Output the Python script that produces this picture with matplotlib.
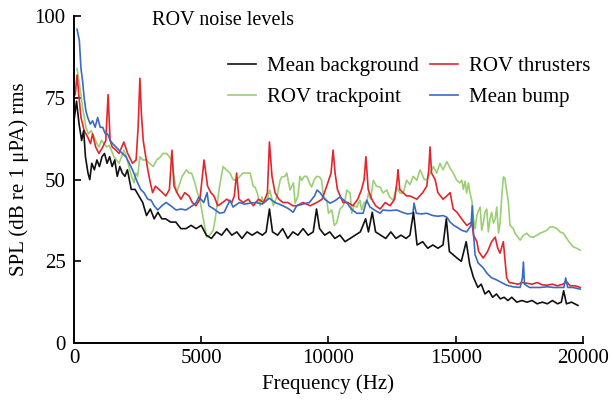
import matplotlib
matplotlib.use("Agg")
import matplotlib.pyplot as plt

plt.rcParams['font.family'] = ['Liberation Serif', 'DejaVu Serif']

# ---- data (frequency Hz, SPL dB) ----
mean_background = [(0,68),(100,74),(200,67),(300,62),(380,65),(450,57),(550,52),(620,50),(700,55),(800,53),(900,56),(1000,54),(1100,57),(1200,58),(1300,55),(1400,57),(1500,54),(1600,56),(1700,51),(1800,54),(1900,52),(2000,51),(2100,53),(2250,47),(2400,47),(2550,45),(2700,43),(2850,39),(3000,41),(3150,38),(3300,40),(3450,38),(3600,38),(3800,37),(4000,37),(4200,35),(4400,35),(4600,36),(4800,35),(5000,36),(5200,33),(5400,32),(5600,34),(5800,33),(6000,35),(6200,33),(6400,34),(6600,32),(6800,34),(7000,33),(7200,34),(7400,33),(7550,34),(7680,41),(7800,34),(8000,33),(8200,35),(8400,32),(8600,34),(8800,33),(9000,35),(9200,33),(9400,34),(9530,41),(9650,35),(9850,33),(10050,34),(10250,32),(10450,33),(10650,31),(10850,32),(11050,33),(11250,34),(11460,38),(11570,34),(11720,40),(11850,34),(12050,33),(12250,32),(12450,34),(12650,32),(12850,33),(13050,32),(13200,33),(13340,40),(13480,30),(13700,31),(13900,29),(14100,30),(14300,29),(14500,30),(14630,38),(14750,28),(14900,27),(15050,26),(15220,25),(15410,31),(15550,24),(15700,20),(15870,17),(16000,18),(16150,15),(16300,16),(16450,14),(16600,15),(16750,13.5),(16900,14),(17050,13),(17200,14),(17400,12.5),(17600,13),(17800,12.5),(18000,13),(18200,12),(18400,12.5),(18600,12),(18800,13),(19000,12),(19150,12.5),(19240,16),(19350,12),(19550,12.5),(19800,11.5)]

rov_thrusters = [(50,76),(120,82),(200,75),(275,69),(400,65),(540,63),(650,61),(730,64),(850,60),(980,58),(1130,60),(1250,62),(1340,76),(1420,62),(1500,60),(1650,59),(1770,58),(1960,61.5),(2110,58),(2300,55),(2440,56),(2520,66),(2590,81),(2650,70),(2720,62),(2800,58),(2900,53),(3000,49),(3090,46),(3200,48),(3340,47),(3480,46),(3610,45),(3750,47),(3850,59),(3930,48),(4050,46),(4200,44),(4350,46),(4520,45),(4650,43),(4790,42),(4950,44),(5110,56),(5250,48),(5380,46),(5500,45),(5650,42),(5840,43),(6000,44),(6200,43),(6300,45),(6390,52),(6480,44),(6650,43),(6850,44),(7050,42),(7250,44),(7450,43),(7600,46),(7680,61.5),(7780,51),(7900,46),(8050,44),(8210,43),(8400,43),(8600,42),(8750,42),(9000,43),(9280,42),(9540,43),(9750,44),(9930,48),(10100,52),(10180,59),(10260,52),(10350,47),(10570,43),(10760,43),(10960,42),(11150,44),(11300,47),(11400,50),(11470,57),(11560,47),(11700,44),(11850,42),(12030,41),(12230,43),(12420,42),(12600,44),(12700,50),(12730,53),(12800,47),(12930,46),(13070,45),(13200,45),(13470,44),(13700,46),(13860,48),(13940,53),(13990,60),(14050,52),(14190,50),(14300,46),(14500,44),(14650,45),(14780,46),(14900,41),(15050,40),(15230,38),(15430,36),(15630,37),(15700,33),(15830,31),(15900,28),(16080,26),(16250,28),(16410,31),(16550,32.4),(16650,29),(16740,27.5),(16870,31),(16950,24),(17000,20),(17100,18.5),(17260,18.3),(17450,18),(17600,18.5),(17790,18.3),(18000,18),(18200,18.5),(18400,17.8),(18580,17.7),(18800,18),(19000,17.5),(19200,18),(19360,18.7),(19500,17.5),(19700,17.5),(19890,17)]

rov_trackpoint = [(120,84),(210,79.5),(340,72),(470,66),(570,64),(670,65),(800,63),(900,61),(980,60),(1080,62),(1180,61),(1280,60),(1380,60.5),(1470,59),(1570,57),(1670,56),(1770,55),(1870,57),(1960,59),(2060,57),(2160,54),(2260,51),(2360,49),(2430,52),(2500,51),(2590,57),(2700,56),(2830,56),(2970,55),(3110,54),(3250,56),(3400,57),(3500,58),(3640,58),(3750,57),(3840,56),(3930,51),(4030,46),(4120,48),(4250,51),(4420,53),(4520,52),(4620,52),(4750,49),(4850,46),(4950,43.7),(5080,38),(5210,32.4),(5330,33),(5470,34.5),(5550,38),(5610,41.6),(5720,48),(5860,54),(5980,53),(6130,52),(6250,50),(6390,49.8),(6520,51),(6640,52),(6790,52),(6920,52),(7040,48),(7110,47.7),(7200,46),(7310,42),(7380,44.7),(7470,43),(7570,43.7),(7700,46.8),(7830,42),(7970,44.7),(8100,49.8),(8160,50.8),(8290,51),(8360,52),(8490,46.8),(8620,49),(8690,42.8),(8800,45),(8880,51),(8950,49.8),(9050,51),(9150,51),(9250,49),(9340,47.7),(9440,50),(9540,51),(9650,50.8),(9730,49.8),(9800,45),(9930,43.7),(10000,39.7),(10130,40.7),(10230,36),(10320,36.7),(10450,41),(10580,42),(10650,43.7),(10720,46.8),(10850,45.9),(10910,39.7),(11000,42),(11110,41.6),(11240,43.7),(11300,40.7),(11400,43),(11500,42.8),(11570,45.9),(11660,44),(11760,49.8),(11880,48),(12030,47.7),(12140,45.9),(12290,46.8),(12400,44.7),(12540,43.7),(12680,47.7),(12810,45.9),(12940,45.9),(13070,49.8),(13200,48.5),(13330,51),(13470,49.8),(13600,53),(13660,52),(13760,50),(13860,50),(13990,52),(14120,54),(14250,52),(14380,55),(14500,53),(14650,55.5),(14780,53.5),(14900,52),(15040,49.8),(15160,49),(15240,49.8),(15300,47),(15370,49.5),(15430,45.9),(15500,49),(15560,45.9),(15630,43.7),(15700,38),(15760,35),(15830,39),(15890,40.5),(15960,41.6),(16020,34.5),(16080,36.7),(16150,40),(16220,41),(16280,34),(16350,38),(16410,40),(16480,36.7),(16550,38),(16610,41.6),(16680,33.6),(16740,36.7),(16810,45),(16870,50.8),(16930,50.5),(16980,47.7),(17070,43),(17130,36),(17260,35),(17330,33.6),(17430,32.5),(17530,31.5),(17660,33),(17790,33.6),(17920,32.5),(18050,32.4),(18200,33),(18310,33.6),(18440,34),(18580,34.5),(18700,35.5),(18840,35.5),(18970,35),(19100,34),(19230,33.6),(19360,32),(19490,30.6),(19620,29.4),(19750,29),(19890,28.4)]

mean_bump = [(120,96),(210,92.6),(275,84),(340,80),(400,75),(470,71),(540,69),(640,67),(730,68),(830,66),(930,69),(1030,66),(1130,66),(1230,64),(1320,64),(1420,62),(1520,61),(1650,60),(1770,59),(1900,58),(2040,57),(2170,55),(2300,53),(2400,51),(2500,49),(2620,47),(2750,46),(2900,44),(3030,43.7),(3150,42),(3290,40.7),(3450,42),(3620,43),(3800,42),(4010,40.7),(4200,41),(4400,40.7),(4650,42),(4800,43),(4910,44.7),(5100,43),(5230,46),(5300,42),(5500,41),(5730,39.7),(5900,40),(6130,43.7),(6250,41.6),(6500,43),(6700,42.5),(6920,42.8),(7150,43),(7400,42.5),(7670,44.3),(7900,43),(8210,42),(8450,41),(8610,40),(8750,42),(9000,42.5),(9250,43),(9450,45),(9550,46.8),(9670,46),(9850,44),(10060,42.8),(10250,43.5),(10450,44.7),(10710,43),(10900,41),(11110,39.7),(11360,39.7),(11500,43.7),(11630,41.6),(11850,40.5),(12030,39.7),(12140,40.7),(12400,40.5),(12680,40.7),(12900,40),(13100,39.5),(13320,39.7),(13360,42.8),(13450,39.7),(13650,39.5),(13860,39.7),(14100,39),(14300,38.8),(14500,39),(14650,38.5),(14780,37),(14920,36),(15040,35.5),(15230,34.5),(15430,34),(15600,36),(15650,42),(15700,33),(15760,27),(15880,24.5),(16080,23),(16220,21.4),(16400,20),(16610,19.3),(16800,18.5),(17000,17.7),(17250,17.2),(17530,17),(17620,20),(17660,24.8),(17700,18),(17900,17),(18180,17),(18310,17),(18600,17.2),(18850,17),(19100,17),(19250,17),(19320,19.9),(19400,17),(19600,17),(19890,16.5)]

series = [
    ("Mean background", mean_background, "#111111"),
    ("ROV trackpoint", rov_trackpoint, "#9ccf74"),
    ("ROV thrusters", rov_thrusters, "#e3262b"),
    ("Mean bump", mean_bump, "#3a6bc3"),
]
draw_order = ["ROV trackpoint", "ROV thrusters", "Mean bump", "Mean background"]

x_ticks = [0, 5000, 10000, 15000, 20000]
y_ticks = [0, 25, 50, 75, 100]

fig = plt.figure(figsize=(6.14, 4.01), dpi=100)
ax = fig.add_axes([0.1205, 0.1446, 0.829, 0.815])

handles = {}
for name in draw_order:
    lab, pts, col = [s for s in series if s[0] == name][0]
    xs = [p[0] for p in pts]
    ys = [p[1] for p in pts]
    ln, = ax.plot(xs, ys, color=col, lw=1.2, label=lab)
    handles[lab] = ln

ax.set_xlim(0, 20000)
ax.set_ylim(0, 100)
ax.set_xticks(x_ticks)
ax.set_yticks(y_ticks)
ax.tick_params(direction='in', length=5, width=1.2, labelsize=15, pad=4)
ax.tick_params(axis='y', pad=6)
for s in ['top', 'right']:
    ax.spines[s].set_visible(False)
for s in ['left', 'bottom']:
    ax.spines[s].set_linewidth(1.4)

ax.set_xlabel("Frequency (Hz)", fontsize=15, labelpad=5)
ax.set_ylabel("SPL (dB re 1 μPA) rms", fontsize=15, labelpad=4)

ax.text(0.153, 0.988, "ROV noise levels", transform=ax.transAxes,
        fontsize=14.5, ha='left', va='center')

order = ["Mean background", "ROV trackpoint", "ROV thrusters", "Mean bump"]
ax.legend([handles[k] for k in order], order, ncol=2, frameon=False,
          fontsize=15, loc='upper right', bbox_to_anchor=(1.014, 0.876),
          handlelength=1.35, handletextpad=0.5, columnspacing=0.55,
          labelspacing=0.55, borderaxespad=0, borderpad=0)

fig.savefig("out.png", dpi=100)
